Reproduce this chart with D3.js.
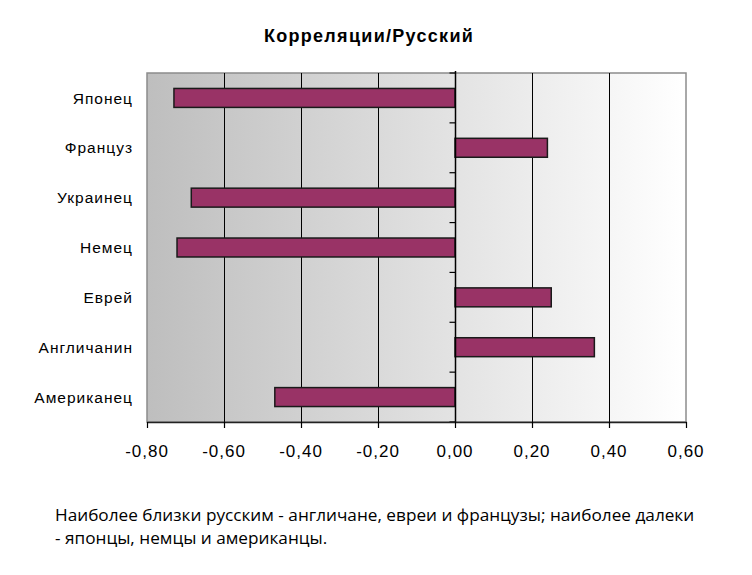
<!DOCTYPE html>
<html>
<head>
<meta charset="utf-8">
<script src="https://cdn.jsdelivr.net/npm/d3@7"></script>
<style>
  body { margin: 0; background: #fff; }
</style>
</head>
<body>
<div id="container"></div>
<script>
// Chart data
const categories = ["Японец", "Француз", "Украинец", "Немец", "Еврей", "Англичанин", "Американец"];
const values = [-0.73, 0.24, -0.685, -0.722, 0.25, 0.362, -0.468];
const xTicks = [-0.8, -0.6, -0.4, -0.2, 0.0, 0.2, 0.4, 0.6];
const title = "Корреляции/Русский";
const notes = [
    "Наиболее близки русским - англичане, евреи и французы; наиболее далеки",
    "- японцы, немцы и американцы."
];

const width = 752, height = 575;
const plot = { left: 147, right: 686, top: 73, bottom: 422 };
const sans = "'Liberation Sans', Arial, sans-serif";

const svg = d3.select("#container").append("svg")
    .attr("width", width)
    .attr("height", height);

const x = d3.scaleLinear().domain([-0.8, 0.6]).range([plot.left, plot.right]);
const y = d3.scaleBand().domain(categories)
    .range([plot.top, plot.bottom])
    .paddingInner(0.62)
    .paddingOuter(0.31);

// background gradient, grey on the left fading to white
const grad = svg.append("defs").append("linearGradient")
    .attr("id", "bg").attr("x1", "0%").attr("x2", "100%").attr("y1", "0%").attr("y2", "0%");
grad.append("stop").attr("offset", "0%").attr("stop-color", "#bebebe");
grad.append("stop").attr("offset", "100%").attr("stop-color", "#ffffff");

svg.append("rect")
    .attr("x", plot.left).attr("y", plot.top)
    .attr("width", plot.right - plot.left).attr("height", plot.bottom - plot.top)
    .attr("fill", "url(#bg)")
    .attr("stroke", "#8c8c8c")
    .attr("stroke-width", 1.5);

// gridlines
svg.append("g").selectAll("line")
    .data(xTicks.filter(t => t !== 0 && t !== -0.8 && t !== 0.6))
    .join("line")
    .attr("x1", d => Math.round(x(d)) + 0.5).attr("x2", d => Math.round(x(d)) + 0.5)
    .attr("y1", plot.top).attr("y2", plot.bottom)
    .attr("stroke", "#000").attr("stroke-width", 1);

// bars
svg.append("g").selectAll("rect")
    .data(categories.map((c, i) => ({ c, v: values[i] })))
    .join("rect")
    .attr("x", d => x(Math.min(0, d.v)))
    .attr("y", d => y(d.c))
    .attr("width", d => Math.abs(x(d.v) - x(0)))
    .attr("height", y.bandwidth())
    .attr("fill", "#993366")
    .attr("stroke", "#1a1a1a")
    .attr("stroke-width", 1.5);

// category axis at zero
const zx = Math.round(x(0)) + 0.5;
svg.append("line")
    .attr("x1", zx).attr("x2", zx).attr("y1", plot.top - 2).attr("y2", plot.bottom)
    .attr("stroke", "#000").attr("stroke-width", 1.5);
svg.append("g").selectAll("line")
    .data(d3.range(categories.length + 1))
    .join("line")
    .attr("x1", zx - 6).attr("x2", zx)
    .attr("y1", i => plot.top + i * y.step())
    .attr("y2", i => plot.top + i * y.step())
    .attr("stroke", "#000").attr("stroke-width", 1.2);

svg.append("g").selectAll("text")
    .data(categories)
    .join("text")
    .attr("x", 133)
    .attr("y", d => y(d) + y.bandwidth() / 2)
    .attr("dy", "0.36em")
    .attr("text-anchor", "end")
    .style("font-family", sans)
    .style("font-size", "15.5px")
    .style("letter-spacing", "1px")
    .attr("fill", "#000")
    .text(d => d);

// value axis at the bottom
svg.append("line")
    .attr("x1", plot.left).attr("x2", plot.right + 1)
    .attr("y1", plot.bottom + 0.5).attr("y2", plot.bottom + 0.5)
    .attr("stroke", "#222").attr("stroke-width", 1.5);
svg.append("g").selectAll("line")
    .data(xTicks)
    .join("line")
    .attr("x1", d => Math.round(x(d)) + 0.5).attr("x2", d => Math.round(x(d)) + 0.5)
    .attr("y1", plot.bottom).attr("y2", plot.bottom + 6)
    .attr("stroke", "#000").attr("stroke-width", 1.2);
svg.append("g").selectAll("text")
    .data(xTicks)
    .join("text")
    .attr("x", d => x(d))
    .attr("y", 457)
    .attr("text-anchor", "middle")
    .style("font-family", sans)
    .style("font-size", "17px")
    .style("letter-spacing", "1px")
    .attr("fill", "#000")
    .text(d => d.toFixed(2).replace("-0.00", "0.00").replace(".", ","));

// title
svg.append("text")
    .attr("x", 369).attr("y", 42)
    .attr("text-anchor", "middle")
    .style("font-family", sans)
    .style("font-weight", "bold")
    .style("font-size", "18px")
    .style("letter-spacing", "1.3px")
    .text(title);

// caption below
svg.append("g").selectAll("text")
    .data(notes)
    .join("text")
    .attr("x", 55)
    .attr("y", (d, i) => 521 + i * 23)
    .style("font-family", "'Open Sans', 'Noto Sans', sans-serif")
    .style("font-size", "17.2px")
    .attr("fill", "#000")
    .text(d => d);
</script>
</body>
</html>
